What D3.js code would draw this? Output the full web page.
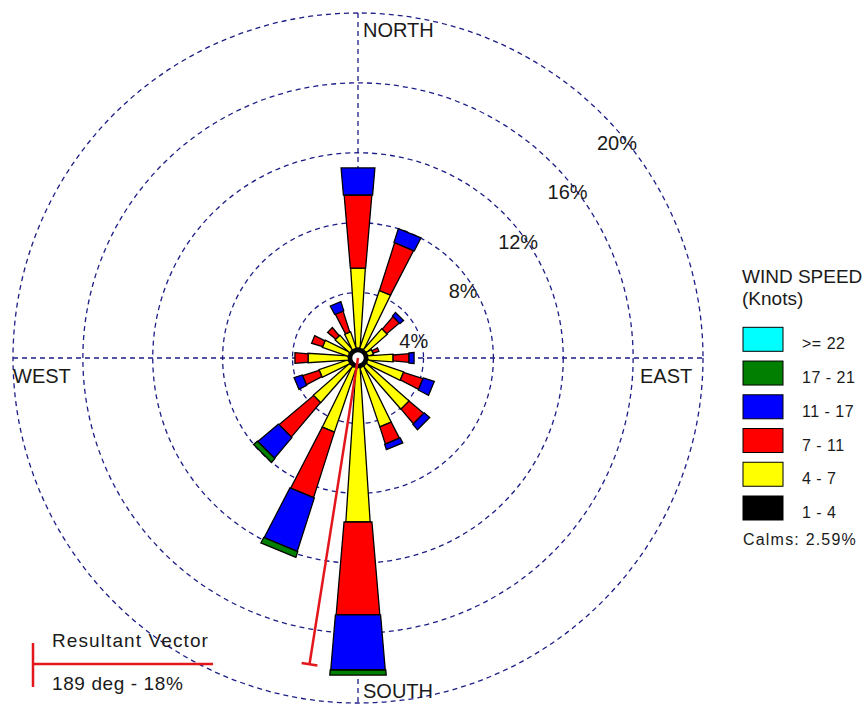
<!DOCTYPE html>
<html>
<head>
<meta charset="utf-8">
<script src="https://cdn.jsdelivr.net/npm/d3@7"></script>
<style>
  html, body { margin: 0; padding: 0; background: #ffffff; }
  svg { display: block; }
  text { font-family: "Liberation Sans", Arial, sans-serif; fill: #1a1a1a; }
</style>
</head>
<body>
<svg id="chart" width="865" height="705"></svg>
<script>
// ---------------- DATA ----------------
const directions = ["N","NNE","NE","ENE","E","ESE","SE","SSE","S","SSW","SW","WSW","W","WNW","NW","NNW"];
const directionAngles = [0,22.5,45,67.5,90,112.5,135,157.5,180,202.5,225,247.5,270,292.5,315,337.5];
const speedLabels = [">= 22","17 - 21","11 - 17","7 - 11","4 - 7","1 - 4"];
const speedColors = ["#00ffff","#007f00","#0000ff","#ff0000","#ffff00","#000000"];
// frequency (%) per direction for each speed class
const speed1to4   = [0.8,0.8,0.8,0.8,0.8,0.8,0.8,0.8,0.8,0.8,0.8,0.8,0.8,0.8,0.8,0.8];
const speed4to7   = [4.6,3.49,1.6,0.35,1.46,2.17,3.26,3.57,8.84,3.89,2.77,1.77,2.31,1.57,1.11,1.0];
const speed7to11  = [4.18,2.86,0.94,0.35,0.91,1.17,1.09,1.03,5.32,3.92,2.58,1.0,0.75,0.66,0.61,1.26];
const speed11to17 = [1.55,0.83,0.27,0,0.29,0.66,0.41,0.32,3.15,3.2,1.54,0.49,0,0,0,0.55];
const speed17to21 = [0,0,0,0,0,0,0,0,0.29,0.35,0.29,0,0,0,0,0];
const speedGE22   = [0,0,0,0,0,0,0,0,0,0,0,0,0,0,0,0];
const ringValues = [4,8,12,16,20];
const ringLabels = ["4%","8%","12%","16%","20%"];
const compassLabels = ["NORTH","EAST","SOUTH","WEST"];
const calmsText = "Calms: 2.59%";
const resultantDeg = 189;
const resultantPct = 18;
const resultantText = "189 deg - 18%";

// --------------- LAYOUT ---------------
const svg = d3.select("#chart");
svg.append("rect").attr("width", 865).attr("height", 705).attr("fill", "#fff");
const cx = 358, cy = 358;
const r = d3.scaleLinear().domain([4, 20]).range([65.5, 345]);
const rr = v => Math.max(0, r(v));

function pt(deg, rad, perp) {
  const a = deg * Math.PI / 180;
  const ux = Math.sin(a), uy = -Math.cos(a);
  const vx = Math.cos(a), vy = Math.sin(a);
  return [cx + rad * ux + (perp || 0) * vx, cy + rad * uy + (perp || 0) * vy];
}

// rings
const gGrid = svg.append("g");
gGrid.selectAll("circle.ring").data(ringValues).join("circle")
  .attr("cx", cx).attr("cy", cy).attr("r", d => r(d))
  .attr("fill", "none").attr("stroke", "#1d1d86").attr("stroke-width", 1.3)
  .attr("stroke-dasharray", "5,4");
const R = r(20);
gGrid.append("line").attr("x1", cx - R).attr("x2", cx + R).attr("y1", cy).attr("y2", cy)
  .attr("stroke", "#1d1d86").attr("stroke-width", 1.3).attr("stroke-dasharray", "5,4");
gGrid.append("line").attr("x1", cx).attr("x2", cx).attr("y1", cy - R).attr("y2", cy + R)
  .attr("stroke", "#1d1d86").attr("stroke-width", 1.3).attr("stroke-dasharray", "5,4");

// ring labels (along the 45deg diagonal)
gGrid.selectAll("text.rl").data(ringValues).join("text")
  .attr("x", d => cx + r(d) * Math.SQRT1_2 - 5)
  .attr("y", d => cy - r(d) * Math.SQRT1_2 + 36)
  .attr("font-size", 20).text((d, i) => ringLabels[i]);

// compass labels
const gLab = svg.append("g").attr("font-size", 20);
gLab.append("text").attr("x", cx + 5).attr("y", 37).text(compassLabels[0]);
gLab.append("text").attr("x", 640).attr("y", 383).text(compassLabels[1]);
gLab.append("text").attr("x", cx + 5).attr("y", 698).text(compassLabels[2]);
gLab.append("text").attr("x", 13).attr("y", 383).text(compassLabels[3]);

// bars
const seriesInner = [speed1to4, speed4to7, speed7to11, speed11to17, speed17to21, speedGE22];
const colorsInner = ["#000000","#ffff00","#ff0000","#0000ff","#007f00","#00ffff"];
const widthSlope  = [0.3, 0.13, 0.17, 0.17, 0.17, 0.17];
const widthOffset = [3, 3, 0, 1.5, 2.5, 3.5];
const wFn = (rad, k) => Math.max(2, widthSlope[k] * rad + widthOffset[k]);
const segs = [];
directions.forEach((d, i) => {
  let cum = 0;
  seriesInner.forEach((s, k) => {
    const v = s[i];
    if (v > 0) {
      segs.push({ dir: i, k, p0: cum, p1: cum + v });
      cum += v;
    }
  });
});
const lineGen = d3.line();
svg.append("g").selectAll("path.seg").data(segs).join("path")
  .attr("d", s => {
    const a = directionAngles[s.dir];
    const r0 = rr(s.p0), r1 = rr(s.p1);
    const w0 = wFn(r0, s.k) / 2, w1 = wFn(r1, s.k) / 2;
    return lineGen([pt(a, r0, -w0), pt(a, r1, -w1), pt(a, r1, w1), pt(a, r0, w0)]) + "Z";
  })
  .attr("fill", s => colorsInner[s.k])
  .attr("stroke", "#000").attr("stroke-width", 1.3).attr("stroke-linejoin", "miter");

// calm circle
svg.append("circle").attr("cx", cx).attr("cy", cy).attr("r", 7)
  .attr("fill", "#fff").attr("stroke", "#000").attr("stroke-width", 2.5);

// resultant vector
const rv = rr(resultantPct);
const endP = pt(resultantDeg, rv, 0);
svg.append("line").attr("x1", cx).attr("y1", cy).attr("x2", endP[0]).attr("y2", endP[1])
  .attr("stroke", "#e3161c").attr("stroke-width", 2.5);
const t1 = pt(resultantDeg, rv, -8), t2 = pt(resultantDeg, rv, 8);
svg.append("line").attr("x1", t1[0]).attr("y1", t1[1]).attr("x2", t2[0]).attr("y2", t2[1])
  .attr("stroke", "#e3161c").attr("stroke-width", 2.5);

// resultant legend
svg.append("line").attr("x1", 33).attr("x2", 33).attr("y1", 643).attr("y2", 687)
  .attr("stroke", "#e3161c").attr("stroke-width", 2.5);
svg.append("line").attr("x1", 33).attr("x2", 213).attr("y1", 664).attr("y2", 664)
  .attr("stroke", "#e3161c").attr("stroke-width", 2.5);
svg.append("text").attr("x", 52).attr("y", 647).attr("font-size", 19)
  .attr("letter-spacing", 1.1).text("Resultant Vector");
svg.append("text").attr("x", 52).attr("y", 690).attr("font-size", 19)
  .attr("letter-spacing", 0.6).text(resultantText);

// speed legend
const gL = svg.append("g");
gL.append("text").attr("x", 742).attr("y", 283).attr("font-size", 19).text("WIND SPEED");
gL.append("text").attr("x", 742).attr("y", 305).attr("font-size", 19).text("(Knots)");
const yL = d3.scaleLinear().domain([0, 5]).range([327.3, 496]);
gL.selectAll("rect.lb").data(speedLabels).join("rect")
  .attr("x", 743).attr("y", (d, i) => yL(i)).attr("width", 40).attr("height", 24)
  .attr("fill", (d, i) => speedColors[i]).attr("stroke", "#000").attr("stroke-width", 1);
gL.selectAll("text.lt").data(speedLabels).join("text")
  .attr("x", 802).attr("y", (d, i) => yL(i) + 22).attr("font-size", 16)
  .attr("letter-spacing", 0.5).text(d => d);
gL.append("text").attr("x", 743).attr("y", 545).attr("font-size", 16)
  .attr("letter-spacing", 1.2).text(calmsText);
</script>
</body>
</html>
